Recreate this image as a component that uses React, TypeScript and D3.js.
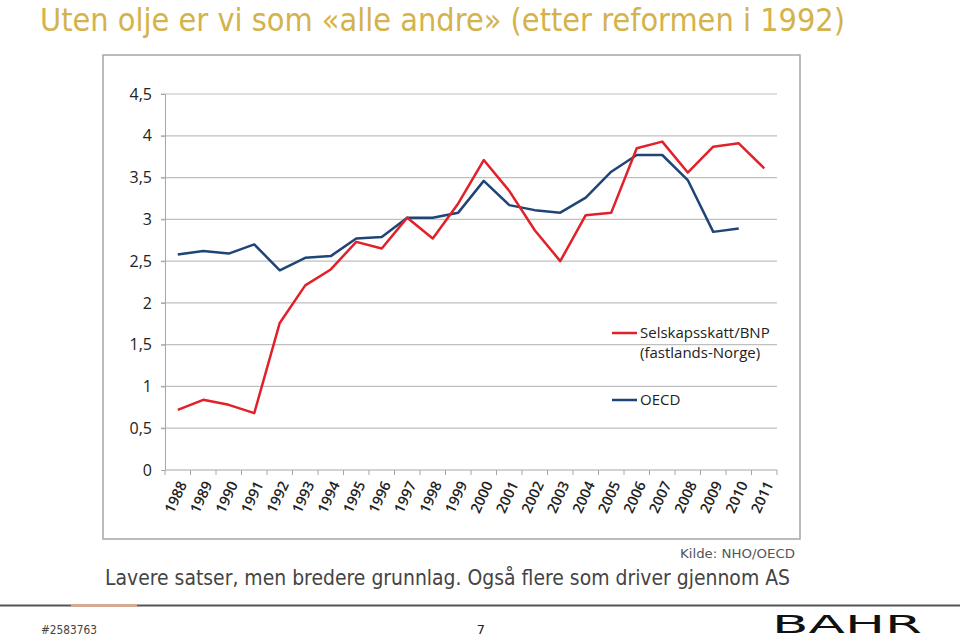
import React, { useEffect, useRef } from 'react';
import * as d3 from 'd3';

const years = ['1988', '1989', '1990', '1991', '1992', '1993', '1994', '1995', '1996', '1997', '1998', '1999',
  '2000', '2001', '2002', '2003', '2004', '2005', '2006', '2007', '2008', '2009', '2010', '2011'];

// Selskapsskatt/BNP (fastlands-Norge)
const norway = [0.72, 0.84, 0.78, 0.68, 1.76, 2.21, 2.4, 2.73, 2.65, 3.02, 2.77, 3.19,
  3.71, 3.34, 2.87, 2.5, 3.05, 3.08, 3.85, 3.93, 3.56, 3.87, 3.91, 3.61];

// OECD (no value for 2011)
const oecd = [2.58, 2.62, 2.59, 2.7, 2.39, 2.54, 2.56, 2.77, 2.79, 3.02, 3.02, 3.08,
  3.46, 3.17, 3.11, 3.08, 3.26, 3.57, 3.77, 3.77, 3.47, 2.85, 2.89, null];

const yTicks = [0, 0.5, 1, 1.5, 2, 2.5, 3, 3.5, 4, 4.5];

const RED = '#e2202a';
const BLUE = '#1f4577';
const labelFont = '"Open Sans", sans-serif';
const slideFont = '"DejaVu Sans", sans-serif';

const App = () => {
  const svgRef = useRef<SVGSVGElement>(null);

  useEffect(() => {
    const svg = d3.select(svgRef.current);
    svg.selectAll('*').remove();

    const left = 165, right = 777, top = 94, bottom = 470;

    const x = d3.scaleBand().domain(years).range([left, right]).padding(0);
    const y = d3.scaleLinear().domain([0, 4.5]).range([bottom, top]);

    // slide title
    svg.append('text')
      .attr('x', 40).attr('y', 31)
      .attr('font-family', slideFont).attr('font-size', 32)
      .attr('textLength', 805).attr('lengthAdjust', 'spacingAndGlyphs')
      .attr('fill', '#d4b24c')
      .text('Uten olje er vi som «alle andre» (etter reformen i 1992)');

    // chart frame
    svg.append('rect')
      .attr('x', 103).attr('y', 55).attr('width', 697).attr('height', 484)
      .attr('fill', '#fff').attr('stroke', '#a6a6a6').attr('stroke-width', 1.5);

    // gridlines
    svg.append('g').selectAll('line').data(yTicks.filter((d) => d > 0)).enter().append('line')
      .attr('x1', left - 4).attr('x2', right)
      .attr('y1', (d) => y(d)).attr('y2', (d) => y(d))
      .attr('stroke', '#bfbfbf').attr('stroke-width', 1.2);

    // y axis
    const yAxis = d3.axisLeft(y).tickValues(yTicks).tickSize(4).tickPadding(9)
      .tickFormat((d) => d3.format('~g')(d as number).replace('.', ','));
    const gy = svg.append('g').attr('transform', `translate(${left},0)`).call(yAxis);
    gy.select('.domain').attr('stroke', '#a6a6a6');
    gy.selectAll('line').attr('stroke', '#a6a6a6');
    gy.selectAll('text').attr('font-family', labelFont).attr('font-size', 16).attr('fill', '#222');

    // x axis, ticks between categories
    svg.append('line')
      .attr('x1', left).attr('x2', right).attr('y1', bottom).attr('y2', bottom)
      .attr('stroke', '#a6a6a6').attr('stroke-width', 1.2);
    svg.append('g').selectAll('line').data(d3.range(years.length + 1)).enter().append('line')
      .attr('x1', (i) => left + i * x.bandwidth()).attr('x2', (i) => left + i * x.bandwidth())
      .attr('y1', bottom).attr('y2', bottom + 5)
      .attr('stroke', '#a6a6a6');
    svg.append('g').selectAll('text').data(years).enter().append('text')
      .attr('transform', (d) => `translate(${(x(d) as number) + x.bandwidth() / 2 + 5},${bottom + 12}) rotate(-65)`)
      .attr('text-anchor', 'end').attr('dy', '0.35em')
      .attr('font-family', labelFont).attr('font-size', 14.5).attr('font-weight', 600).attr('fill', '#222')
      .text((d) => d);

    const cx = (i: number) => (x(years[i]) as number) + x.bandwidth() / 2;

    const line = d3.line<number | null>()
      .defined((d) => d != null)
      .x((_, i) => cx(i))
      .y((d) => y(d as number));

    svg.append('path').datum(oecd).attr('d', line)
      .attr('fill', 'none').attr('stroke', BLUE).attr('stroke-width', 2.5).attr('stroke-linejoin', 'round');
    svg.append('path').datum(norway).attr('d', line)
      .attr('fill', 'none').attr('stroke', RED).attr('stroke-width', 2.5).attr('stroke-linejoin', 'round');

    // legend
    const legend = [
      { color: RED, lines: ['Selskapsskatt/BNP', '(fastlands-Norge)'], y: 333 },
      { color: BLUE, lines: ['OECD'], y: 400 },
    ];
    const lg = svg.append('g');
    legend.forEach((l) => {
      lg.append('line').attr('x1', 612).attr('x2', 637).attr('y1', l.y).attr('y2', l.y)
        .attr('stroke', l.color).attr('stroke-width', 2.5);
      l.lines.forEach((t, j) => {
        lg.append('text').attr('x', 640).attr('y', l.y + j * 20).attr('dy', '0.35em')
          .attr('font-family', labelFont).attr('font-size', 15).attr('fill', '#222').text(t);
      });
    });

    // source + caption
    svg.append('text').attr('x', 795).attr('y', 558).attr('text-anchor', 'end')
      .attr('font-family', slideFont).attr('font-size', 13).attr('fill', '#555')
      .attr('textLength', 115).attr('lengthAdjust', 'spacingAndGlyphs')
      .text('Kilde: NHO/OECD');
    svg.append('text').attr('x', 105).attr('y', 585)
      .attr('font-family', slideFont).attr('font-size', 21).attr('fill', '#444')
      .attr('textLength', 685).attr('lengthAdjust', 'spacingAndGlyphs')
      .text('Lavere satser, men bredere grunnlag. Også flere som driver gjennom AS');

    // footer
    svg.append('line').attr('x1', 0).attr('x2', 960).attr('y1', 605.5).attr('y2', 605.5)
      .attr('stroke', '#555').attr('stroke-width', 2);
    svg.append('line').attr('x1', 71).attr('x2', 137).attr('y1', 605.5).attr('y2', 605.5)
      .attr('stroke', '#e4a88e').attr('stroke-width', 2.5);
    svg.append('text').attr('x', 41).attr('y', 634)
      .attr('font-family', slideFont).attr('font-size', 12).attr('fill', '#444')
      .attr('textLength', 56).attr('lengthAdjust', 'spacingAndGlyphs')
      .text('#2583763');
    svg.append('text').attr('x', 481).attr('y', 634).attr('text-anchor', 'middle')
      .attr('font-family', slideFont).attr('font-size', 13).attr('fill', '#222')
      .text('7');
    svg.append('text').attr('x', 772).attr('y', 633)
      .attr('font-family', slideFont).attr('font-size', 24)
      .attr('textLength', 150).attr('lengthAdjust', 'spacingAndGlyphs')
      .attr('fill', '#111')
      .text('BAHR');
  }, []);

  return (
    <svg ref={svgRef} width={960} height={638}
      style={{ position: 'absolute', left: 0, top: 0, background: '#fff' }} />
  );
};

export default App;
